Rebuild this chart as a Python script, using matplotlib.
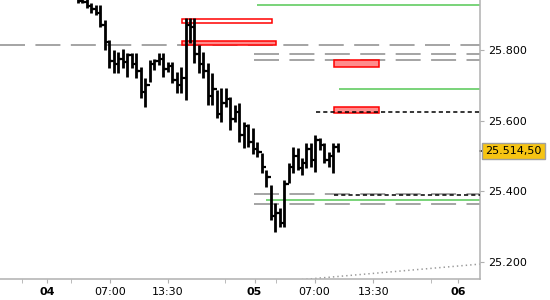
import matplotlib
matplotlib.use("Agg")
import matplotlib.pyplot as plt
from matplotlib.patches import Rectangle
import numpy as np

plt.rcParams['lines.scale_dashes'] = False
plt.rcParams['font.family'] = ['DejaVu Sans']

# 30-min OHLC bars (x = bar index)
opens = [25945, 25940, 25936, 25925, 25915, 25905, 25870, 25823, 25770, 25760,
         25775, 25765, 25785, 25760, 25740, 25680, 25700, 25760, 25770, 25775,
         25745, 25755, 25715, 25700, 25720, 25870, 25865, 25790, 25760, 25740,
         25670, 25690, 25620, 25650, 25660, 25605, 25625, 25560, 25585, 25540,
         25520, 25510, 25470, 25440, 25330, 25340, 25310, 25420, 25470, 25500,
         25465, 25480, 25520, 25490, 25545, 25530, 25490, 25500, 25525]
highs = [25965, 25960, 25955, 25933, 25927, 25927, 25885, 25828, 25800, 25794,
         25803, 25792, 25792, 25792, 25752, 25721, 25772, 25775, 25792, 25792,
         25766, 25766, 25738, 25752, 25890, 25890, 25890, 25814, 25794, 25763,
         25735, 25687, 25692, 25692, 25667, 25644, 25650, 25596, 25591, 25579,
         25540, 25508, 25460, 25418, 25367, 25353, 25432, 25480, 25525, 25523,
         25494, 25537, 25537, 25559, 25551, 25537, 25511, 25537, 25537]
lows = [25933, 25933, 25919, 25905, 25899, 25865, 25800, 25749, 25735, 25735,
        25749, 25724, 25749, 25721, 25664, 25639, 25709, 25743, 25758, 25724,
        25738, 25707, 25678, 25678, 25658, 25820, 25763, 25735, 25721, 25644,
        25644, 25607, 25596, 25639, 25574, 25596, 25540, 25523, 25525, 25506,
        25497, 25452, 25412, 25319, 25285, 25299, 25299, 25424, 25452, 25460,
        25446, 25466, 25469, 25455, 25517, 25480, 25469, 25452, 25511]
closes = [25940, 25936, 25925, 25915, 25905, 25870, 25823, 25770, 25760, 25775,
          25765, 25785, 25760, 25740, 25680, 25700, 25760, 25770, 25775, 25745,
          25755, 25715, 25700, 25720, 25870, 25865, 25790, 25760, 25740, 25670,
          25690, 25620, 25650, 25660, 25605, 25625, 25560, 25585, 25540, 25520,
          25510, 25470, 25440, 25330, 25340, 25310, 25420, 25470, 25500, 25465,
          25480, 25520, 25490, 25545, 25530, 25490, 25500, 25525, 25514.5]
last_price = 25514.5
last_label = "25.514,50"

# horizontal levels (price, start bar)
gray_levels = [25814, 25789, 25772, 25392, 25364]
gray_starts = [-17.4, 39.3, 39.3, 39.3, 39.3]
black_levels = [25625, 25390]
black_starts = [53.1, 57.1]
green_levels = [25927, 25690, 25376]
green_starts = [40.0, 58.3, 42.0]

# zones: x0, x1, low, high, filled
zone_x0 = [23.2, 23.2, 57.1, 57.1]
zone_x1 = [43.3, 44.2, 67.2, 67.2]
zone_lo = [25876, 25814, 25752, 25622]
zone_hi = [25888, 25826, 25772, 25639]
zone_fill = [False, True, True, True]

# dotted trend line
trend_x = [48.0, 89.7]
trend_y = [25148, 25194]

# axis ticks
tick_pos = [-6.85, 7.14, 20.1, 39.4, 52.8, 65.9, 84.8]
tick_labels = ["04", "07:00", "13:30", "05", "07:00", "13:30", "06"]
tick_bold = [True, False, False, True, False, False, True]
minor_pos = [-12.6, -1.63, 32.9, 44.2, 78.8]
y_ticks = [25200, 25400, 25600, 25800]
y_labels = ["25.200", "25.400", "25.600", "25.800"]

x_left, x_right = -17.41, 89.73
y_bottom, y_top = 25151.9, 25941.5

fig = plt.figure(figsize=(5.5, 3), dpi=100)
ax = fig.add_axes([0, 0.07, 0.8727, 0.93])
ax.set_xlim(x_left, x_right)
ax.set_ylim(y_bottom, y_top)

# levels
for lvl, st in zip(gray_levels, gray_starts):
    ax.hlines(lvl, st, x_right + 5, colors='#8c8c8c', linewidth=1.1,
              linestyles=(0, (18, 7.5)), zorder=1)
for lvl, st in zip(green_levels, green_starts):
    ax.hlines(lvl, st, x_right + 5, colors='#55c755', linewidth=1.1, zorder=1)

for x0, x1, lo, hi, filled in zip(zone_x0, zone_x1, zone_lo, zone_hi, zone_fill):
    ax.add_patch(Rectangle((x0, lo), x1 - x0, hi - lo,
                           facecolor='#ff8c8c' if filled else 'white',
                           edgecolor='red', linewidth=1.1, zorder=2))

for lvl, st in zip(black_levels, black_starts):
    ax.hlines(lvl, st, x_right + 5, colors='black', linewidth=1.1,
              linestyles=(0, (3, 2.2)), zorder=3)

ax.plot(trend_x, trend_y, color='#999999', linestyle=(0, (1, 2.2)), linewidth=1.1, zorder=1)

# OHLC bars
xs = np.arange(len(opens))
ax.vlines(xs, lows, highs, colors='black', linewidth=2.0, zorder=4)
ax.hlines(opens, xs - 0.55, xs, colors='black', linewidth=1.6, zorder=4)
ax.hlines(closes, xs, xs + 0.55, colors='black', linewidth=1.6, zorder=4)

# axes styling
for s in ['left', 'top']:
    ax.spines[s].set_visible(False)
for s in ['right', 'bottom']:
    ax.spines[s].set_color('#b0b0b0')
    ax.spines[s].set_linewidth(1.1)

ax.yaxis.tick_right()
ax.set_yticks(y_ticks)
ax.set_yticklabels(y_labels)
ax.tick_params(axis='y', length=3, color='#b0b0b0', labelsize=8, pad=3)

ax.set_xticks(tick_pos)
ax.set_xticklabels(tick_labels)
ax.set_xticks(minor_pos, minor=True)
ax.tick_params(axis='x', which='both', length=3, color='#b0b0b0', labelsize=8, pad=3)
for lab, b in zip(ax.get_xticklabels(), tick_bold):
    if b:
        lab.set_fontweight('bold')

# last price marker
ax.annotate(last_label, xy=(1.0, last_price), xycoords=('axes fraction', 'data'),
            xytext=(4, 0), textcoords='offset points', va='center', ha='left',
            fontsize=8, annotation_clip=False,
            bbox=dict(boxstyle='square,pad=0.3', facecolor='#f6c412', edgecolor='#a0a0a0', linewidth=1))
ax.plot([x_right, x_right + 0.7], [last_price, last_price], color='black', linewidth=1.1, clip_on=False)

fig.savefig("out.png", dpi=100)
